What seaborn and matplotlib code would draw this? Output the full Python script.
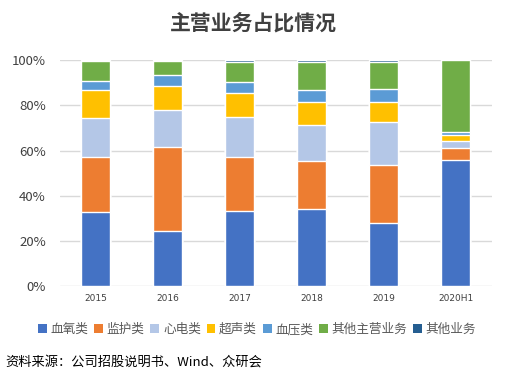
import numpy as np
import pandas as pd
import seaborn as sns
import matplotlib.pyplot as plt
from matplotlib.patches import Patch

years = ['2015', '2016', '2017', '2018', '2019', '2020H1']
categories = ['血氧类', '监护类', '心电类', '超声类', '血压类', '其他主营业务', '其他业务']
# 各业务占比（%）
xueyang = [32.7, 24.3, 33.2, 34.1, 27.9, 55.9]
jianhu = [24.4, 37.2, 23.9, 21.2, 25.6, 5.3]
xindian = [17.4, 16.5, 17.7, 15.9, 19.2, 3.0]
chaosheng = [12.4, 10.6, 10.6, 10.4, 8.9, 2.6]
xueya = [3.8, 4.8, 5.0, 5.3, 5.6, 1.5]
qita_zhuying = [8.9, 6.2, 8.7, 12.4, 12.1, 31.7]
qita = [0.5, 0.5, 0.9, 0.7, 0.7, 0.0]
colors = ['#4472C4', '#ED7D31', '#B4C7E7', '#FFC000', '#5B9BD5', '#70AD47', '#255E91']

sns.set_style('white')
plt.rcParams['font.family'] = ['Noto Sans CJK SC', 'DejaVu Sans']

series = [xueyang, jianhu, xindian, chaosheng, xueya, qita_zhuying, qita]
df = pd.DataFrame(dict(zip(categories, series)), index=years)
cum = df.cumsum(axis=1)

fig = plt.figure(figsize=(5.07, 3.78), dpi=100)
ax = fig.add_axes([0.118, 0.243, 0.852, 0.598])

# 从上往下画累计值，后画的覆盖前面的
for cat, col in zip(categories[::-1], colors[::-1]):
    sns.barplot(x=years, y=cum[cat].values, color=col, width=0.4,
                saturation=1, ax=ax, zorder=3)

ax.set_ylim(0, 100)
ax.set_yticks(np.arange(0, 101, 20))
ax.set_yticklabels([f'{v}%' for v in range(0, 101, 20)])
ax.set_xticks(range(len(years)))
ax.set_xticklabels(years, fontfamily='DejaVu Sans')
ax.yaxis.grid(True, color='#D9D9D9', linewidth=1)
ax.set_axisbelow(True)
for s in ax.spines.values():
    s.set_visible(False)
ax.tick_params(axis='y', labelsize=9.5, colors='#404040', length=0, pad=10)
ax.tick_params(axis='x', labelsize=6.5, colors='#404040', length=0, pad=6)
ax.set_xlabel('')
ax.set_ylabel('')

fig.text(0.5, 0.94, '主营业务占比情况', ha='center', va='center',
         fontsize=15, fontweight='bold', color='#404040')

handles = [Patch(facecolor=c, edgecolor='none') for c in colors]
fig.legend(handles, categories, loc='center', bbox_to_anchor=(0.507, 0.128),
           ncol=7, frameon=False, fontsize=9.1, handlelength=0.7,
           handleheight=0.7, handletextpad=0.3, columnspacing=0.45,
           labelcolor='#595959')

fig.text(0.01, 0.042, '资料来源：公司招股说明书、Wind、众研会', ha='left',
         va='center', fontsize=9.5, color='black')

fig.savefig('out.png', dpi=100)
